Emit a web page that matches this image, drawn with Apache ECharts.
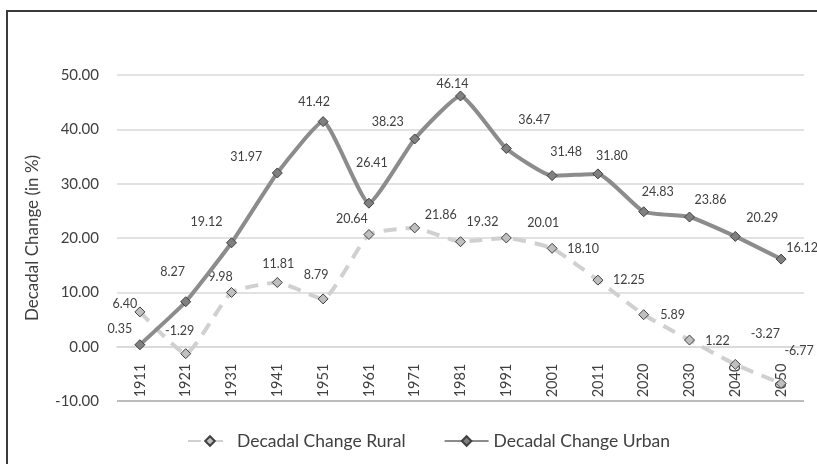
<!DOCTYPE html>
<html>
<head>
<meta charset="utf-8">
<script src="https://cdn.jsdelivr.net/npm/echarts@6/dist/echarts.min.js"></script>
<style>
html,body{margin:0;padding:0;background:#fff;}
#chart{width:817px;height:464px;}
</style>
</head>
<body>
<div id="chart"></div>
<script>
const categories = ['1911','1921','1931','1941','1951','1961','1971','1981','1991','2001','2011','2020','2030','2040','2050'];
const rural = [6.40, -1.29, 9.98, 11.81, 8.79, 20.64, 21.86, 19.32, 20.01, 18.10, 12.25, 5.89, 1.22, -3.27, -6.77];
const urban = [0.35, 8.27, 19.12, 31.97, 41.42, 26.41, 38.23, 46.14, 36.47, 31.48, 31.80, 24.83, 23.86, 20.29, 16.12];
const yTicks = [-10, 0, 10, 20, 30, 40, 50];
const seriesNames = ['Decadal Change Rural', 'Decadal Change Urban'];
const yAxisTitle = 'Decadal Change (in %)';

// label placement offsets (px) relative to each marker
const ruralLabelOffsets = [[-15,-8],[-6,-23],[-11,-15],[1,-19],[-7,-24],[-17,-16],[26,-13],[22,-20],[37,-15],[31,1],[31,0],[29,0],[28,1],[30,-30],[18,-32]];
const urbanLabelOffsets = [[-20,-16],[-13,-30],[-25,-21],[-31,-16],[-9,-20],[3,-40],[-27,-17],[-8,-12],[28,-29],[14,-24],[14,-18],[14,-20],[21,-17],[27,-18],[21,-11]];

const FONT = 'Lato';
const TXT = '#404040';

const GRID = { left: 117, right: 13, top: 75, bottom: 63 };
const H = 464;
const plotH = H - GRID.top - GRID.bottom;
const yMin = yTicks[0], yMax = yTicks[yTicks.length - 1];
// shift the category axis up from the bottom edge to where y = 0 sits
const zeroOffset = -plotH * (0 - yMin) / (yMax - yMin);

function withLabels(values, offsets) {
  return values.map((v, i) => ({ value: v, label: { offset: offsets[i] } }));
}

const gridColors = yTicks.map((t, i) => i === 0 ? '#a6a6a6' : '#d9d9d9');

const chart = echarts.init(document.getElementById('chart'), null, {renderer: 'canvas'});
chart.setOption({
  animation: false,
  backgroundColor: '#ffffff',
  textStyle: { fontFamily: FONT, color: TXT },
  graphic: [{
    type: 'polyline', z: 100, silent: true,
    shape: { points: [[7, 480], [7, 11], [840, 11]] },
    style: { fill: null, stroke: '#3a3a3a', lineWidth: 2 }
  }],
  grid: { left: GRID.left, right: GRID.right, top: GRID.top, bottom: GRID.bottom, containLabel: false },
  legend: {
    left: 182, bottom: 9,
    itemWidth: 44, itemHeight: 12, itemGap: 38,
    textStyle: { fontFamily: FONT, fontSize: 17.5, color: TXT },
    data: seriesNames
  },
  xAxis: {
    type: 'category', data: categories, boundaryGap: true,
    position: 'bottom', offset: zeroOffset,
    axisLine: { onZero: false, lineStyle: { color: '#d9d9d9', width: 1.5 } },
    axisTick: { show: false },
    axisLabel: { rotate: 90, margin: 17, fontFamily: FONT, fontSize: 14.5, color: TXT, interval: 0 },
    splitLine: { show: false }
  },
  yAxis: {
    type: 'value',
    min: yMin, max: yMax, interval: yTicks[1] - yTicks[0],
    name: yAxisTitle, nameLocation: 'middle', nameGap: 76, nameRotate: 90,
    nameTextStyle: { fontFamily: FONT, fontSize: 17, color: TXT },
    axisLine: { show: false }, axisTick: { show: false },
    axisLabel: { margin: 18, fontFamily: FONT, fontSize: 15, color: TXT, formatter: v => v.toFixed(2) },
    splitLine: { lineStyle: { color: gridColors, width: 1.5 } }
  },
  series: [{
    name: seriesNames[0], type: 'line',
    data: withLabels(rural, ruralLabelOffsets),
    smooth: 0.15,
    symbol: 'diamond', symbolSize: 10,
    lineStyle: { color: '#d0d0d0', width: 4, type: [13, 9] },
    itemStyle: { color: '#bfbfbf', borderColor: '#404040', borderWidth: 1 },
    label: { show: true, position: 'inside', fontFamily: FONT, fontSize: 12.5, color: TXT, formatter: p => p.value.toFixed(2) },
    z: 2
  }, {
    name: seriesNames[1], type: 'line',
    data: withLabels(urban, urbanLabelOffsets),
    smooth: 0.15,
    symbol: 'diamond', symbolSize: 10,
    lineStyle: { color: '#8c8c8c', width: 4 },
    itemStyle: { color: '#808080', borderColor: '#404040', borderWidth: 1 },
    label: { show: true, position: 'inside', fontFamily: FONT, fontSize: 12.5, color: TXT, formatter: p => p.value.toFixed(2) },
    z: 3
  }]
});
</script>
</body>
</html>
